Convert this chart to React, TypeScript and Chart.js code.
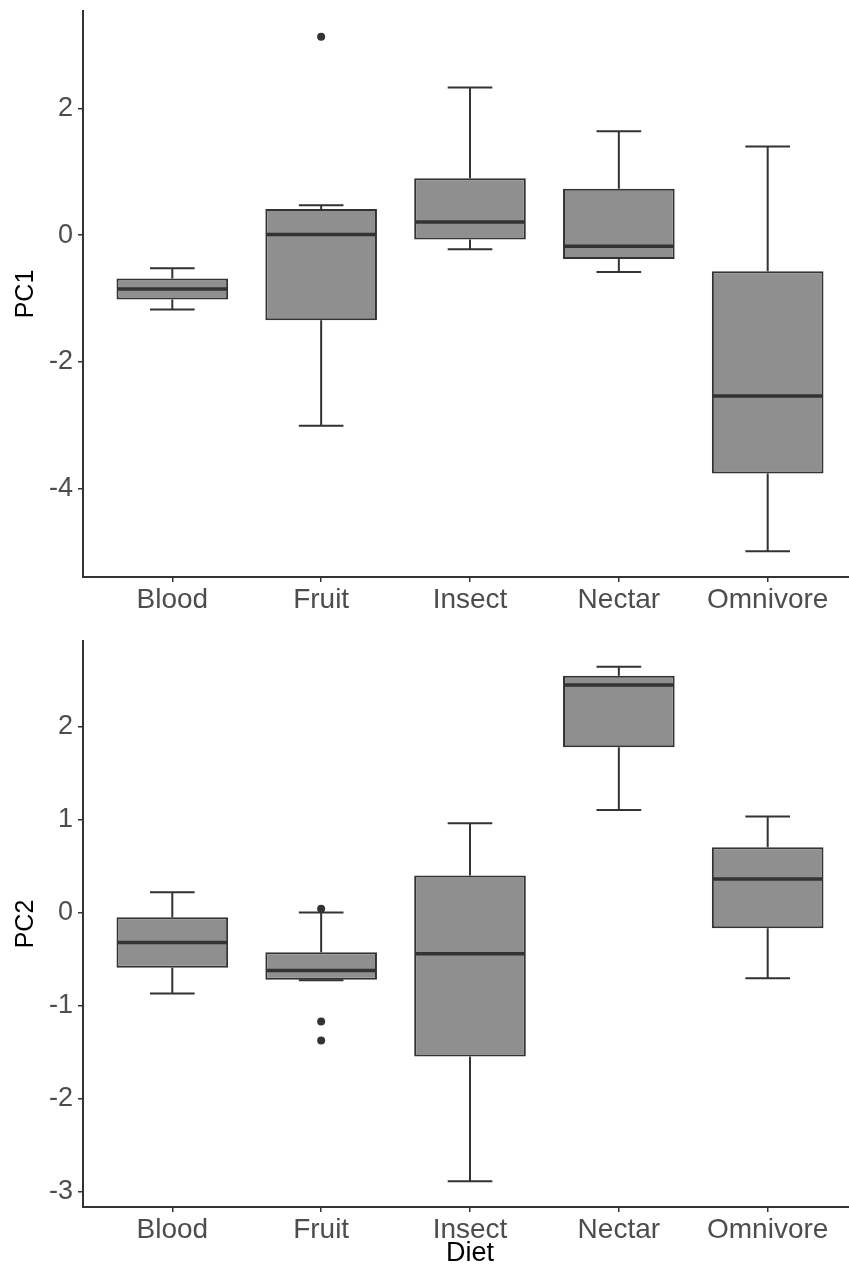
import React, { useEffect, useRef } from "react";
import { Chart, registerables } from "chart.js";

Chart.register(...registerables);
Chart.defaults.font.family = "'Liberation Sans', Arial, Helvetica, sans-serif";

// ---- Data ----
const categories = ["Blood", "Fruit", "Insect", "Nectar", "Omnivore"];

// PC1 boxplot statistics (per category)
const pc1Lower = [-1.175, -3.01, -0.225, -0.583, -4.99];
const pc1Q1 = [-1.017, -1.343, -0.068, -0.378, -3.764];
const pc1Median = [-0.85, 0.01, 0.205, -0.178, -2.54];
const pc1Q3 = [-0.687, 0.41, 0.898, 0.731, -0.572];
const pc1Upper = [-0.524, 0.472, 2.33, 1.638, 1.397];
const pc1OutlierCat = ["Fruit"];
const pc1OutlierVal = [3.13];
const pc1Ticks = [-4, -2, 0, 2];

// PC2 boxplot statistics (per category)
const pc2Lower = [-0.871, -0.73, -2.892, 1.104, -0.706];
const pc2Q1 = [-0.595, -0.724, -1.548, 1.778, -0.169];
const pc2Median = [-0.323, -0.624, -0.444, 2.448, 0.362];
const pc2Q3 = [-0.05, -0.427, 0.398, 2.548, 0.702];
const pc2Upper = [0.218, 0.0, 0.96, 2.645, 1.032];
const pc2OutlierCat = ["Fruit", "Fruit", "Fruit"];
const pc2OutlierVal = [0.04, -1.172, -1.376];
const pc2Ticks = [-3, -2, -1, 0, 1, 2];

// ---- Styles ----
const FILL = "#8f8f8f";
const LINE = "#333333";
const TICK_TEXT = "#4d4d4d";
const CANVAS_W = 861;

type PanelProps = {
  height: number;
  padTop: number;
  xHeight: number;
  yTitle: string;
  xTitle?: string;
  lower: number[];
  q1: number[];
  median: number[];
  q3: number[];
  upper: number[];
  outCat: string[];
  outVal: number[];
  ticks: number[];
};

function BoxPanel(p: PanelProps) {
  const ref = useRef<HTMLCanvasElement>(null);

  useEffect(() => {
    if (!ref.current) return;
    const xs = categories.map((_, i) => i + 1);
    const all = [...p.lower, ...p.upper, ...p.outVal];
    const lo = Math.min(...all);
    const hi = Math.max(...all);
    const pad = (hi - lo) * 0.05;

    const boxPlugin = {
      id: "boxWhiskers",
      beforeDatasetsDraw(chart: any) {
        const { ctx } = chart;
        const x = chart.scales.x;
        const y = chart.scales.y;
        ctx.save();
        ctx.strokeStyle = LINE;
        ctx.lineWidth = 2;
        categories.forEach((_, i) => {
          const cx = x.getPixelForValue(i + 1);
          const l = x.getPixelForValue(i + 1 - 0.15);
          const r = x.getPixelForValue(i + 1 + 0.15);
          const yU = y.getPixelForValue(p.upper[i]);
          const yL = y.getPixelForValue(p.lower[i]);
          const yQ1 = y.getPixelForValue(p.q1[i]);
          const yQ3 = y.getPixelForValue(p.q3[i]);
          ctx.beginPath();
          ctx.moveTo(cx, yQ3);
          ctx.lineTo(cx, yU);
          ctx.moveTo(l, yU);
          ctx.lineTo(r, yU);
          ctx.moveTo(cx, yQ1);
          ctx.lineTo(cx, yL);
          ctx.moveTo(l, yL);
          ctx.lineTo(r, yL);
          ctx.stroke();
        });
        ctx.restore();
      },
      afterDatasetsDraw(chart: any) {
        const { ctx } = chart;
        const y = chart.scales.y;
        const meta = chart.getDatasetMeta(0);
        ctx.save();
        ctx.strokeStyle = LINE;
        ctx.lineWidth = 3.5;
        meta.data.forEach((el: any, i: number) => {
          const ym = y.getPixelForValue(p.median[i]);
          ctx.beginPath();
          ctx.moveTo(el.x - el.width / 2 + 1, ym);
          ctx.lineTo(el.x + el.width / 2 - 1, ym);
          ctx.stroke();
        });
        ctx.restore();
      },
    };

    const gridOpts = {
      display: true,
      drawOnChartArea: false,
      drawTicks: true,
      tickLength: 5,
      color: LINE,
      lineWidth: 1.5,
      offset: false,
    };
    const borderOpts = { display: true, color: LINE, width: 2 };

    const chart = new Chart(ref.current, {
      type: "bar",
      data: {
        datasets: [
          {
            type: "bar",
            data: xs.map((v, i) => ({ x: v, y: [p.q1[i], p.q3[i]] })) as any,
            backgroundColor: FILL,
            borderColor: LINE,
            borderWidth: 2,
            borderSkipped: false,
            barPercentage: 0.75,
            categoryPercentage: 1,
          },
          {
            type: "scatter",
            data: p.outCat.map((c, i) => ({
              x: categories.indexOf(c) + 1,
              y: p.outVal[i],
            })) as any,
            backgroundColor: LINE,
            borderWidth: 0,
            pointRadius: 4,
            showLine: false,
          } as any,
        ],
      },
      options: {
        responsive: false,
        animation: false,
        layout: { padding: { top: p.padTop, left: 0, right: 0, bottom: 0 } },
        plugins: {
          legend: { display: false },
          tooltip: { enabled: false },
        },
        scales: {
          x: {
            type: "linear",
            min: 0.4,
            max: 5.6,
            offset: false,
            afterBuildTicks: (s: any) => {
              s.ticks = xs.map((v) => ({ value: v }));
            },
            afterFit: (s: any) => {
              s.height = p.xHeight;
              s.paddingLeft = 0;
              s.paddingRight = 0;
            },
            ticks: {
              callback: (v: any) => categories[Math.round(Number(v)) - 1] ?? "",
              color: TICK_TEXT,
              font: { size: 28 },
              padding: 1,
              maxRotation: 0,
              autoSkip: false,
            },
            grid: gridOpts,
            border: borderOpts,
            title: p.xTitle
              ? {
                  display: true,
                  text: p.xTitle,
                  color: "#000000",
                  font: { size: 27 },
                  padding: { top: 0, bottom: 0 },
                }
              : { display: false },
          },
          y: {
            type: "linear",
            min: lo - pad,
            max: hi + pad,
            afterBuildTicks: (s: any) => {
              s.ticks = p.ticks.map((v) => ({ value: v }));
            },
            afterFit: (s: any) => {
              s.width = 83;
              s.paddingTop = 0;
              s.paddingBottom = 0;
            },
            ticks: {
              callback: (v: any) => String(v),
              color: TICK_TEXT,
              font: { size: 27 },
              padding: 5,
            },
            grid: gridOpts,
            border: borderOpts,
            title: {
              display: true,
              text: p.yTitle,
              color: "#000000",
              font: { size: 25 },
              padding: { top: 11, bottom: 0 },
            },
          },
        } as any,
      },
      plugins: [boxPlugin],
    } as any);

    return () => chart.destroy();
  }, []);

  return (
    <canvas
      ref={ref}
      width={CANVAS_W}
      height={p.height}
      style={{ display: "block", width: CANVAS_W, height: p.height }}
    />
  );
}

export default function App() {
  return (
    <div
      style={{
        position: "absolute",
        left: 0,
        top: 0,
        width: 849,
        height: 1270,
        overflow: "hidden",
        background: "#ffffff",
      }}
    >
      <BoxPanel
        height={628}
        padTop={11}
        xHeight={51}
        yTitle="PC1"
        lower={pc1Lower}
        q1={pc1Q1}
        median={pc1Median}
        q3={pc1Q3}
        upper={pc1Upper}
        outCat={pc1OutlierCat}
        outVal={pc1OutlierVal}
        ticks={pc1Ticks}
      />
      <BoxPanel
        height={642}
        padTop={13}
        xHeight={63}
        yTitle="PC2"
        xTitle="Diet"
        lower={pc2Lower}
        q1={pc2Q1}
        median={pc2Median}
        q3={pc2Q3}
        upper={pc2Upper}
        outCat={pc2OutlierCat}
        outVal={pc2OutlierVal}
        ticks={pc2Ticks}
      />
    </div>
  );
}
